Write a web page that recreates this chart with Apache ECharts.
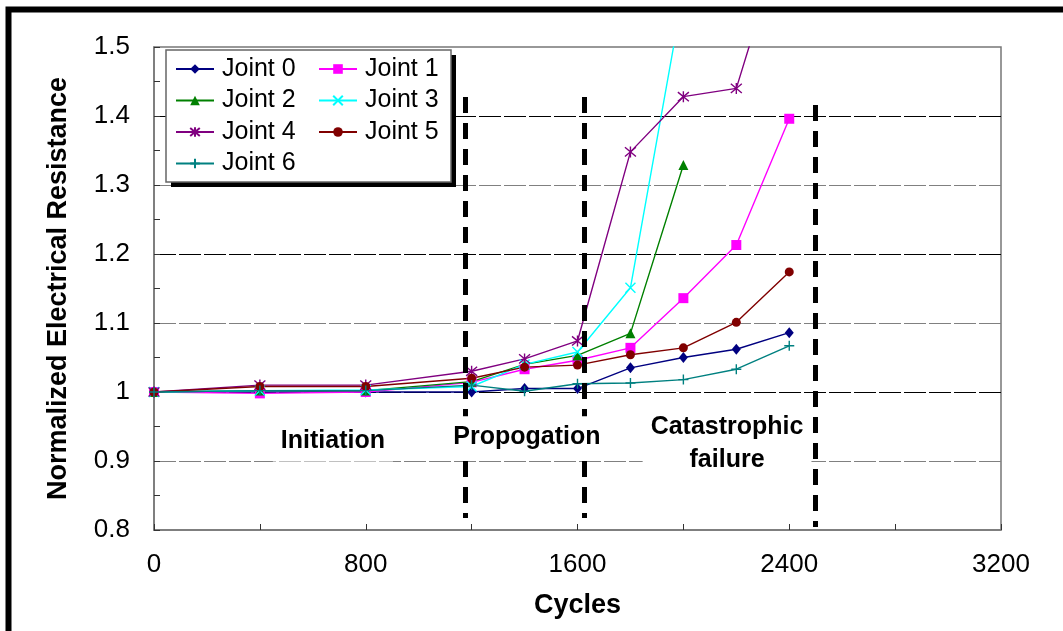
<!DOCTYPE html>
<html><head><meta charset="utf-8">
<script src="https://cdn.jsdelivr.net/npm/echarts@6/dist/echarts.min.js"></script>
<style>html,body{margin:0;padding:0;background:#fff}#c{width:1063px;height:631px}</style>
</head><body><div id="c"></div>
<script>
// ---- data ----
const cycles = [0, 400, 800, 1200, 1400, 1600, 1800, 2000, 2200, 2400];
const joint0 = [1.0, 1.0, 1.0, 1.0, 1.005, 1.005, 1.035, 1.05, 1.062, 1.086];
const joint1 = [1.0, 0.998, 1.0, 1.014, 1.033, 1.046, 1.064, 1.136, 1.213, 1.396];
const joint2 = [1.0, 1.002, 1.002, 1.015, 1.04, 1.053, 1.085, 1.329];
const joint3 = [1.0, 1.002, 1.003, 1.008, 1.04, 1.058, 1.151, 1.58];
const joint4 = [1.0, 1.01, 1.01, 1.03, 1.048, 1.074, 1.348, 1.428, 1.44, 1.69];
const joint5 = [1.0, 1.008, 1.008, 1.02, 1.036, 1.039, 1.054, 1.064, 1.101, 1.174];
const joint6 = [1.0, 1.002, 1.002, 1.01, 1.001, 1.012, 1.013, 1.018, 1.033, 1.067];
const seriesNames = ['Joint 0', 'Joint 1', 'Joint 2', 'Joint 3', 'Joint 4', 'Joint 5', 'Joint 6'];
const seriesValues = [joint0, joint1, joint2, joint3, joint4, joint5, joint6];
const xAxisTitle = 'Cycles';
const yAxisTitle = 'Normalized Electrical Resistance';
// phase boundaries (cycles, from resistance, to resistance)
const phaseX = [1175, 1625, 2497];
const phaseTop = [1.4275, 1.4275, 1.416];
const phaseBottom = [0.8174, 0.8174, 0.8043];
// phase labels (text, cycles, resistance)
const phaseText = ['Initiation', 'Propogation', 'Catastrophic\nfailure'];
const phaseTextX = [676, 1409, 2165];
const phaseTextY = [0.929, 0.935, 0.925];

// ---- styles ----
const FONT = '"Liberation Sans", Arial, sans-serif';
const colors = ['#000080', '#FF00FF', '#008000', '#00FFFF', '#800080', '#800000', '#008080'];
const symbols = [
  'diamond', 'rect', 'triangle',
  'path://M0 0L10 10M10 0L0 10',
  'path://M0 0L10 10M10 0L0 10M5 -1L5 11',
  'circle',
  'path://M5 0L5 10M0 5L10 5'
];
const symbolSizes = [[9, 11], 10, 10, 10, 11, 9, 10];
const strokeSym = [false, false, false, true, true, false, true];
const labelZ = [5, 5, 3];

const series = seriesNames.map((name, i) => ({
  name, type: 'line',
  data: seriesValues[i].map((v, k) => [cycles[k], v]),
  symbol: symbols[i], symbolSize: symbolSizes[i],
  showAllSymbol: true,
  lineStyle: { color: colors[i], width: 1.4 },
  itemStyle: strokeSym[i]
    ? { color: colors[i], borderColor: colors[i], borderWidth: 1.4 }
    : { color: colors[i], borderWidth: 0 },
  z: 2, animation: false
}));

series.push({
  type: 'line', name: 'phases', data: [], z: 4, animation: false,
  markLine: {
    silent: true, symbol: ['none', 'none'], animation: false,
    label: { show: false },
    lineStyle: { color: '#000', width: 5, type: [16, 10] },
    data: phaseX.map((x, i) => [{ coord: [x, phaseTop[i]] }, { coord: [x, phaseBottom[i]] }])
  }
});

const legendCommon = {
  orient: 'vertical', itemWidth: 38, itemHeight: 12, itemGap: 5.5, padding: 0,
  selectedMode: false, z: 10,
  textStyle: { fontSize: 25, fontFamily: FONT, color: '#000', lineHeight: 26, padding: [0, 0, 0, 3] }
};

const chart = echarts.init(document.getElementById('c'), null, { renderer: 'canvas' });
const option = {
  animation: false,
  backgroundColor: '#fff',
  textStyle: { fontFamily: FONT },
  grid: { left: 154, right: 62, top: 47, bottom: 101, show: true, borderColor: '#777', borderWidth: 1.5, containLabel: false },
  legend: [
    Object.assign({ data: ['Joint 0', 'Joint 2', 'Joint 4', 'Joint 6'], left: 175, top: 56 }, legendCommon),
    Object.assign({ data: ['Joint 1', 'Joint 3', 'Joint 5'], left: 318, top: 56 }, legendCommon)
  ],
  xAxis: {
    type: 'value', min: 0, max: 3200, interval: 800,
    axisLine: { show: true, lineStyle: { color: '#777', width: 1.5 } },
    axisTick: { show: true, inside: true, length: 6, lineStyle: { color: '#333' } },
    minorTick: { show: true, splitNumber: 2, length: 6, lineStyle: { color: '#333' } },
    splitLine: { show: false },
    axisLabel: { fontSize: 26, color: '#000', margin: 22, fontFamily: FONT, formatter: v => String(v) },
    name: xAxisTitle, nameLocation: 'middle', nameGap: 62,
    nameTextStyle: { fontSize: 27, fontWeight: 'bold', color: '#000', fontFamily: FONT }
  },
  yAxis: {
    type: 'value', min: 0.8, max: 1.5, interval: 0.1,
    axisLine: { show: true, lineStyle: { color: '#777', width: 1.5 } },
    axisTick: { show: true, inside: true, length: 6, lineStyle: { color: '#333' } },
    minorTick: { show: true, splitNumber: 2, length: 6, lineStyle: { color: '#333' } },
    splitLine: { show: true, showMinLine: false, showMaxLine: false,
      lineStyle: { color: ['#808080', '#000000'], type: [22, 3], width: 1.2 } },
    axisLabel: { fontSize: 26, color: '#000', margin: 24, fontFamily: FONT },
    name: yAxisTitle, nameLocation: 'middle', nameGap: 82,
    nameTextStyle: { fontSize: 27, fontWeight: 'bold', color: '#000', fontFamily: FONT }
  },
  series
};
chart.setOption(option);

// annotations placed through the axes' own scales
const labelEls = phaseText.map((t, i) => {
  const p = chart.convertToPixel({ gridIndex: 0 }, [phaseTextX[i], phaseTextY[i]]);
  return {
    type: 'text', x: p[0], y: p[1], z: labelZ[i],
    style: {
      text: t, fill: '#000', font: 'bold 25px ' + FONT, align: 'center', verticalAlign: 'middle',
      lineHeight: 33, backgroundColor: '#fff', padding: [4, 8, 4, 8]
    }
  };
});

chart.setOption({
  graphic: [
    { type: 'rect', shape: { x: 8.5, y: 9.5, width: 1200, height: 800 }, style: { fill: 'none', stroke: '#000', lineWidth: 6 }, z: 20, silent: true },
    { type: 'rect', shape: { x: 171, y: 55, width: 285, height: 132 }, style: { fill: '#000' }, z: 5, z2: 0, silent: true },
    { type: 'rect', shape: { x: 166, y: 50, width: 285, height: 132 }, style: { fill: '#fff', stroke: '#666', lineWidth: 1.5 }, z: 5, z2: 1, silent: true }
  ].concat(labelEls)
});
</script>
</body></html>
